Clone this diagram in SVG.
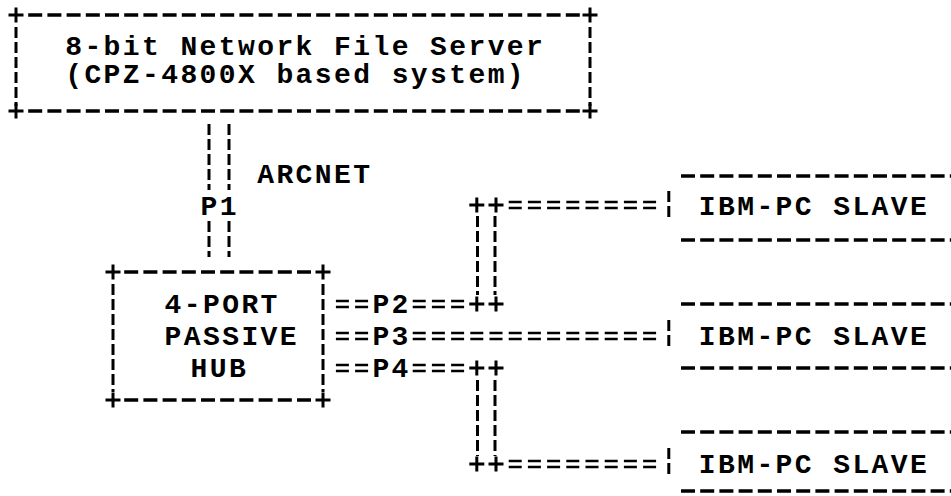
<svg xmlns="http://www.w3.org/2000/svg" width="951" height="496" viewBox="0 0 951 496">
<style>
text{font-family:"Liberation Mono","DejaVu Sans Mono",monospace;font-size:28px;font-weight:bold;letter-spacing:2.4px;fill:#000}
.h{stroke:#000;stroke-width:3.5;stroke-dasharray:14 5.2;fill:none}
.v{stroke:#000;stroke-width:3;stroke-dasharray:11 4;fill:none}
.e{stroke:#000;stroke-width:2.6;stroke-dasharray:13 6.2;fill:none}
.p{stroke:#000;stroke-width:3;fill:none}
</style>
<defs>
<path id="plus" class="p" d="M-7.5 0H7.5M0 -7.5V7.5"/>
</defs>
<rect width="951" height="496" fill="#fff"/>
<g id="server">
<path class="h" d="M28.2 15H580M28.2 111H580"/>
<path class="v" d="M16 27V106M590 27V106"/>
<use href="#plus" x="16" y="15"/><use href="#plus" x="590" y="15"/>
<use href="#plus" x="16" y="111"/><use href="#plus" x="590" y="111"/>
<text x="65.2" y="55">8-bit Network File Server</text>
<text x="65.2" y="83">(CPZ-4800X based system)</text>
</g>
<g id="hub">
<path class="h" d="M124.2 272H311M124.2 400H311"/>
<path class="v" d="M113 284V392M323 284V392"/>
<use href="#plus" x="113" y="272"/><use href="#plus" x="323" y="272"/>
<use href="#plus" x="113" y="400"/><use href="#plus" x="323" y="400"/>
<text x="164.6" y="313">4-PORT</text>
<text x="164.6" y="345">PASSIVE</text>
<text x="190.6" y="377">HUB</text>
</g>
<g id="slave1">
<path class="h" d="M681 176H960M681 240H960"/>
<path class="v" d="M668.8 191V219"/>
<text x="698.8" y="215">IBM-PC SLAVE</text>
</g>
<g id="slave2">
<path class="h" d="M681 304H960M681 368H960"/>
<path class="v" d="M668.8 320V348"/>
<text x="698.8" y="345">IBM-PC SLAVE</text>
</g>
<g id="slave3">
<path class="h" d="M681 432H960M681 491H960"/>
<path class="v" d="M668.8 448V476"/>
<text x="698.8" y="473">IBM-PC SLAVE</text>
</g>
<g id="connectors">
<path class="v" d="M209 124V190M229 124V190M209 221V257M229 221V257"/>
<text x="257.2" y="183">ARCNET</text>
<text x="200.6" y="215">P1</text>
<path class="e" d="M335.9 301H368.1M335.9 307H368.1M412.7 301H464.1M412.7 307H464.1"/>
<text x="372.4" y="313">P2</text>
<use href="#plus" x="476.8" y="304"/><use href="#plus" x="496" y="304"/>
<path class="v" d="M477.5 216V295M495 216V295"/>
<use href="#plus" x="476.8" y="205"/><use href="#plus" x="496" y="205"/>
<path class="e" d="M508.7 202H656.1M508.7 208H656.1"/>
<path class="e" d="M335.9 333H368.1M335.9 339H368.1M412.7 333H656.1M412.7 339H656.1"/>
<text x="372.4" y="345">P3</text>
<path class="e" d="M335.9 365H368.1M335.9 371H368.1M412.7 365H464.1M412.7 371H464.1"/>
<text x="372.4" y="377">P4</text>
<use href="#plus" x="476.8" y="368"/><use href="#plus" x="496" y="368"/>
<path class="v" d="M477.5 380V456M495 380V456"/>
<use href="#plus" x="476.8" y="464"/><use href="#plus" x="496" y="464"/>
<path class="e" d="M508.7 461H656.1M508.7 467H656.1"/>
</g>
</svg>
